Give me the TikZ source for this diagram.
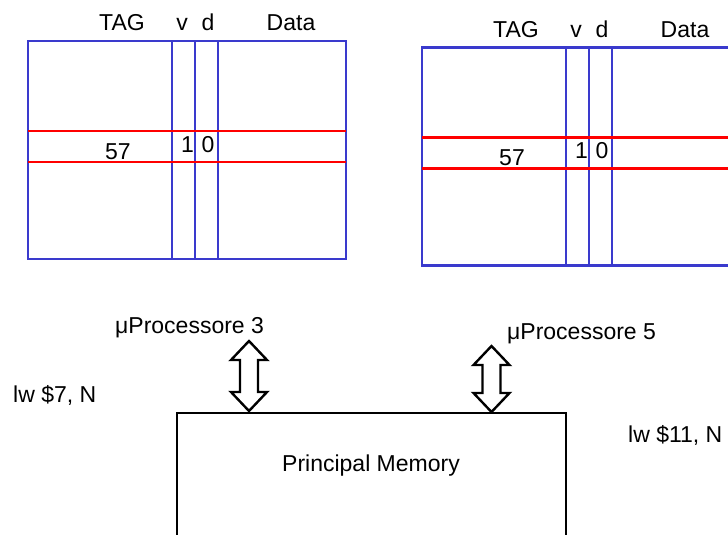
\documentclass[tikz,border=0pt]{standalone}
\usepackage{fontspec}
\setmainfont{Liberation Sans}
\definecolor{cblue}{RGB}{58,58,205}
\newcommand{\busdbl}[3]{% center x, top y, bottom y
  \draw[busarrow] (#1,#2) -- ++(18,19) -- ++(-9,0) -- (#1+9,#3-19) -- ++(9,0)
    -- (#1,#3) -- ++(-18,-19) -- ++(9,0) -- (#1-9,#2+19) -- ++(-9,0) -- cycle;}
\tikzset{
  lbl/.style={font=\fontsize{23}{27}\selectfont, inner sep=0pt, anchor=base},
  cachebox/.style={draw=cblue, line width=2.6pt},
  hitline/.style={draw=red, line width=2.6pt},
  busarrow/.style={draw=black, line width=2.4pt, fill=white, line join=miter},
  membox/.style={draw=black, line width=2.4pt},
  cachetable/.pic={
    \draw[cachebox] (28,41) rectangle (346,259);
    \foreach \xx in {172,195,218} \draw[cachebox] (\xx,41) -- (\xx,259);
    \draw[hitline] (28,131) -- (346,131) (28,162) -- (346,162);
    \node[lbl] (-tag) at (122,31) {TAG};
    \node[lbl] (-v) at (182,31) {v};
    \node[lbl] (-d) at (208,31) {d};
    \node[lbl] (-data) at (291,31) {Data};
    \node[lbl] (-tagval) at (118,159) {57};
    \node[lbl] (-vval) at (187.5,152) {1};
    \node[lbl] (-dval) at (208,152) {0};
  }
}
\begin{document}
\begin{tikzpicture}[x=1pt,y=-1pt]
\useasboundingbox (0,0) rectangle (728,535);
\clip (0,0) rectangle (728,535);
\fill[white] (0,0) rectangle (728,535);
\pic (c3) at (0,0) {cachetable};
\pic (c5) at (394,6.5) {cachetable};
\draw[membox] (177,560) -- (177,413) -- (566,413) -- (566,560);
\node[lbl] (pm) at (371,471) {Principal Memory};
\busdbl{249}{341}{411}
\busdbl{491.5}{346}{412}
\node[lbl, anchor=base west] (p3) at (115,333) {μProcessore 3};
\node[lbl, anchor=base west] (p5) at (507,339) {μProcessore 5};
\node[lbl, anchor=base west] (lw7) at (13,402) {lw \$7, N};
\node[lbl, anchor=base west] (lw11) at (628,442) {lw \$11, N};
\end{tikzpicture}
\end{document}
